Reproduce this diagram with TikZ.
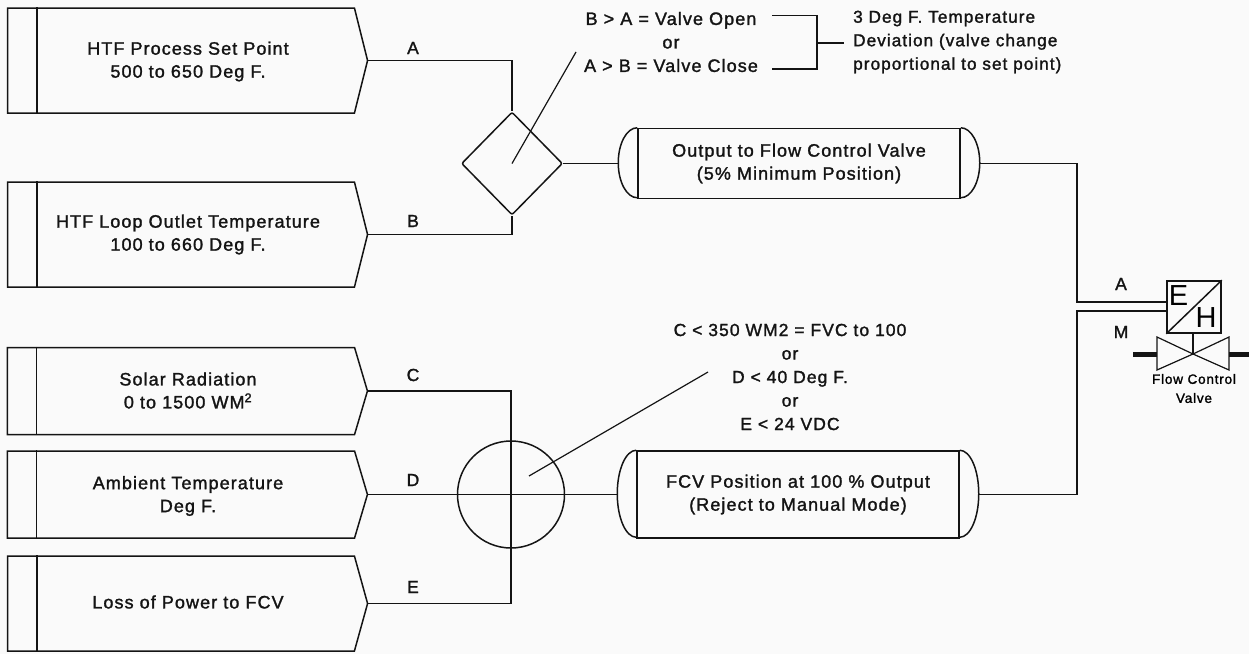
\documentclass[tikz,border=0pt]{standalone}
\usepackage{fontspec}
\setmainfont[LetterSpace=6,FakeBold=1.5]{Liberation Sans}
\newfontfamily\plainfont{Liberation Sans}
\usepackage{xcolor}
\usepackage{tikz}
\usetikzlibrary{positioning,calc,shapes.geometric,shapes.symbols}
\definecolor{paper}{HTML}{FAFAFA}
\definecolor{inkline}{HTML}{141414}
\tikzset{
  wire/.style={draw=inkline, line width=1.5pt},
  inputbox/.style={wire, signal, signal to=east, signal from=nowhere, minimum width=360pt, inner sep=0pt},
  boxtext/.style={inner sep=0pt, align=center, font=\fontsize{18}{23}\selectfont, text=inkline},
  tankbody/.style={wire, minimum width=322pt, inner sep=0pt, align=center, font=\fontsize{18}{23}\selectfont, text=inkline},
  notetext/.style={inner sep=0pt, align=center, font=\fontsize{17.5}{23.5}\selectfont, text=inkline},
  wirelabel/.style={inner sep=0pt, font=\fontsize{17.5}{20}\selectfont, text=inkline}
}
\begin{document}
\begin{tikzpicture}[x=1pt,y=-1pt]
  \useasboundingbox (0,0) rectangle (1249,654);
  \fill[paper] (0,0) rectangle (1249,654);
  % input boxes
  \foreach \nm/\yc/\yt/\boxh/\ang/\txt in {setpoint/60.5/61.5/105/152/{HTF Process Set Point\\500 to 650 Deg F.},
      looptemp/234.5/234.5/105/152/{HTF Loop Outlet Temperature\\100 to 660 Deg F.},
      solar/391/390.5/87/147/{Solar Radiation\\0 to 1500 WM\textsuperscript{2}},
      ambient/494.5/496/87/147/{Ambient Temperature\\Deg F.},
      powerloss/603.5/602/95/149/{Loss of Power to FCV}}{
    \node[inputbox, minimum height=\boxh pt, signal pointer angle=\ang] (\nm) at (181,\yc) {};
    \node[boxtext] (\nm text) at (188,\yt) {\txt};
    \draw[wire] ([xshift=30pt]\nm.north west) -- ([xshift=30pt]\nm.south west);
  }
  % compare and logic
  \node[wire, diamond, rounded corners=2pt, minimum width=101pt, minimum height=103pt, inner sep=0pt] (compare) at (512,163.5) {};
  \node[wire, circle, minimum size=107pt, inner sep=0pt] (logic) at (511,494.5) {};
  % tanks
  \node[tankbody, minimum height=70pt] (outvalve) at (799,163.5) {Output to Flow Control Valve\\(5\% Minimum Position)};
  \node[tankbody, minimum height=87pt] (fcvpos) at (798,494.5) {FCV Position at 100 \% Output\\(Reject to Manual Mode)};
  \foreach \nm/\ry in {outvalve/35, fcvpos/43.5}{
    \draw[wire] (\nm.north west) arc[start angle=90, end angle=270, x radius=19pt, y radius=\ry pt];
    \draw[wire] (\nm.north east) arc[start angle=90, end angle=-90, x radius=19pt, y radius=\ry pt];
  }
  % actuator and valve
  \node[wire, minimum width=54pt, minimum height=52pt, inner sep=0pt] (actuator) at (1194,307) {};
  \draw[wire] (actuator.south west) -- (actuator.north east);
  \node[inner sep=0pt, font=\plainfont\fontsize{29}{30}\selectfont] (letterE) at (1178.5,296) {E};
  \node[inner sep=0pt, font=\plainfont\fontsize{29}{30}\selectfont] (letterH) at (1206,317.5) {H};
  \coordinate (valvetip) at (1193,354);
  \draw[wire, line width=1.2pt] (1157,337) -- (valvetip) -- (1157,370) -- cycle;
  \draw[wire, line width=1.2pt] (1229,337) -- (valvetip) -- (1229,370) -- cycle;
  \draw[wire] (actuator.south -| valvetip) -- (valvetip);
  \draw[draw=inkline, line width=5pt] (1133,354) -- (1157,354);
  \draw[draw=inkline, line width=5pt] (1229,354) -- (1249,354);
  \node[inner sep=0pt, align=center, font=\fontsize{13.5}{19}\selectfont] (valvelabel) at (1194,388.5) {Flow Control\\Valve};
  % connectors
  \draw[wire] (setpoint.east) -| (compare.north);
  \draw[wire] (looptemp.east) -| (compare.south);
  \draw[wire] (compare.east) -- ([xshift=-19pt]outvalve.west);
  \draw[wire] (solar.east) -| (powerloss.east -| logic.south);
  \draw[wire] (powerloss.east) -- (powerloss.east -| logic.south);
  \draw[wire, line width=1.2pt] (ambient.east) -- ([xshift=-19pt]fcvpos.west);
  \coordinate (bendA) at (1077,302);
  \coordinate (bendM) at (1077,311);
  \draw[wire] ([xshift=19pt]outvalve.east) -| (bendA) -- ([yshift=5pt]actuator.west);
  \draw[wire] ([xshift=19pt]fcvpos.east) -| (bendM) -- ([yshift=-4pt]actuator.west);
  % wire letters
  \foreach \nm/\xc/\yc/\txt in {labA/413/48/A, labB/413/221/B, labC/413/375/C, labD/413/480/D, labE/413/587/E, labAv/1121/284/A, labM/1121/332/M}{
    \node[wirelabel] (\nm) at (\xc,\yc) {\txt};
  }
  % notes
  \node[notetext, font=\fontsize{18}{23.5}\selectfont] (valvenote) at (671,42) {B > A = Valve Open\\or\\A > B = Valve Close};
  \node[notetext, anchor=west, align=left, font=\fontsize{17.2}{23.5}\selectfont] (devnote) at (853,42) {3 Deg F. Temperature\\Deviation (valve change\\proportional to set point)};
  \node[notetext] (trippoint) at (790,377) {C < 350 WM2 = FVC to 100\\or\\D < 40 Deg F.\\or\\E < 24 VDC};
  \coordinate (brktop) at (772,15.5);
  \coordinate (brkbot) at (772,69);
  \coordinate (brkmid) at (817,43);
  \draw[wire] (brktop) -- (brktop -| brkmid) -- (brkbot -| brkmid) -- (brkbot);
  \draw[wire] (brkmid) -- ([xshift=-9pt]devnote.west |- brkmid);
  % leaders
  \coordinate (leadA) at (576,52);
  \coordinate (leadB) at (529,476);
  \coordinate (leadC) at (708,372);
  \draw[wire, line width=1.2pt] (compare.center) -- (leadA);
  \draw[wire, line width=1.2pt] (leadB) -- (leadC);
\end{tikzpicture}
\end{document}
